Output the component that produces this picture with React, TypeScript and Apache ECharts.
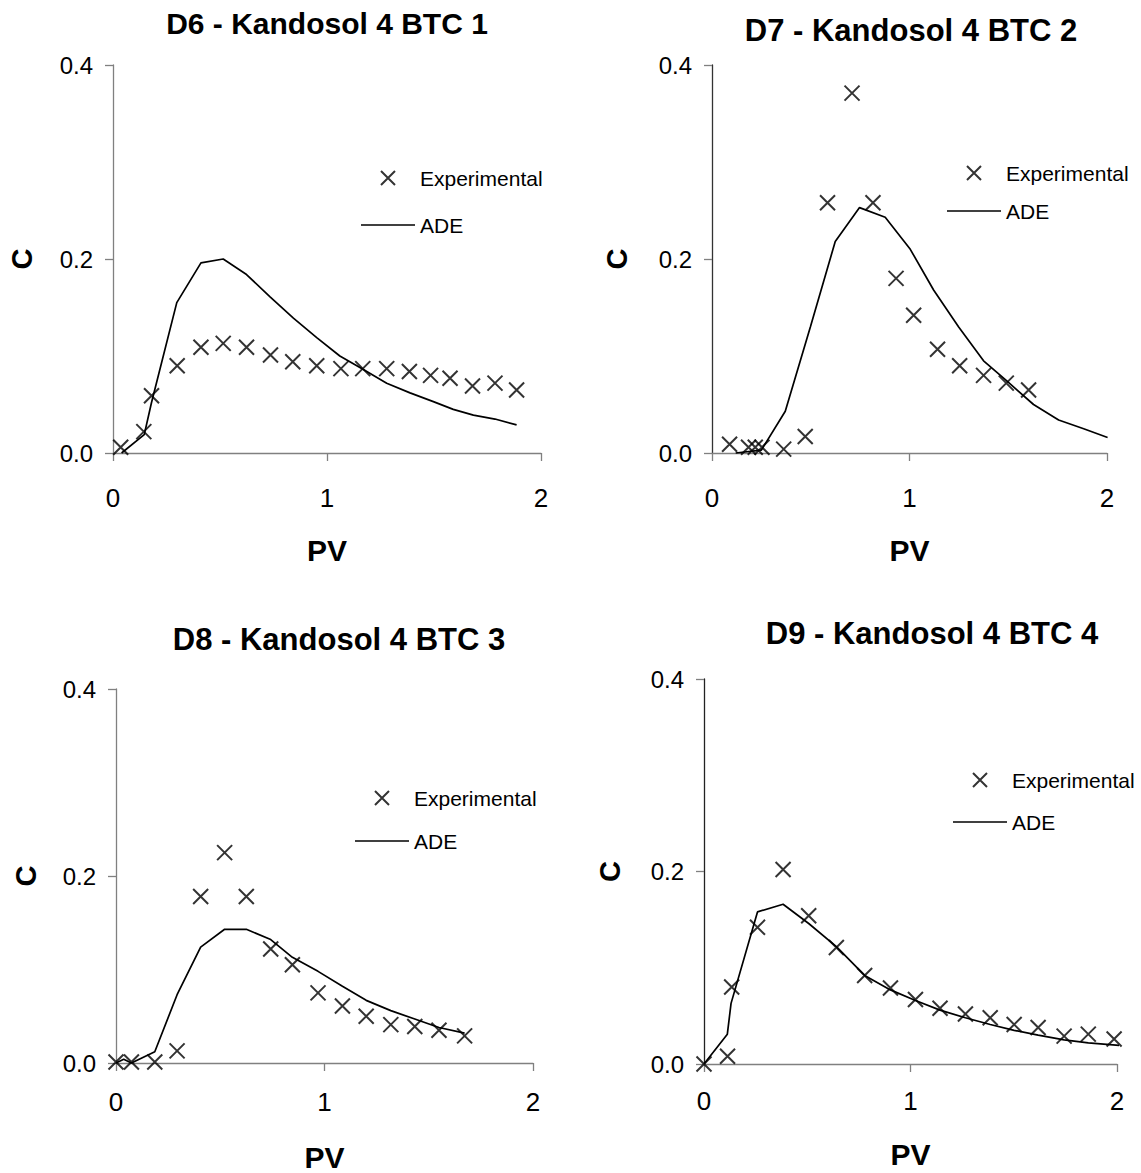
import React, { useEffect, useRef } from "react";
import * as echarts from "echarts";

// ---- Data (PV vs C) ----
const titles = [
  "D6 - Kandosol 4 BTC 1",
  "D7 - Kandosol 4 BTC 2",
  "D8 - Kandosol 4 BTC 3",
  "D9 - Kandosol 4 BTC 4",
];
const xTicks = [0, 1, 2];
const yTicks = [0.0, 0.2, 0.4];

// D6
const d6ExpPV = [0.036, 0.144, 0.18, 0.3, 0.411, 0.515, 0.624, 0.736, 0.84, 0.952, 1.065, 1.167, 1.279, 1.385, 1.484, 1.575, 1.68, 1.785, 1.886];
const d6ExpC = [0.006, 0.022, 0.059, 0.09, 0.109, 0.113, 0.109, 0.101, 0.094, 0.09, 0.087, 0.087, 0.087, 0.084, 0.08, 0.077, 0.069, 0.072, 0.065];
const d6AdePV = [0.04, 0.146, 0.18, 0.298, 0.411, 0.515, 0.624, 0.734, 0.843, 0.952, 1.06, 1.17, 1.279, 1.388, 1.497, 1.59, 1.684, 1.785, 1.886];
const d6AdeC = [0.0, 0.019, 0.052, 0.155, 0.196, 0.2, 0.184, 0.161, 0.139, 0.119, 0.1, 0.086, 0.072, 0.062, 0.053, 0.045, 0.039, 0.035, 0.029];

// D7
const d7ExpPV = [0.089, 0.185, 0.219, 0.253, 0.363, 0.472, 0.585, 0.709, 0.815, 0.932, 1.021, 1.142, 1.254, 1.375, 1.49, 1.603];
const d7ExpC = [0.009, 0.006, 0.006, 0.006, 0.004, 0.017, 0.258, 0.371, 0.258, 0.18, 0.142, 0.107, 0.09, 0.08, 0.072, 0.065];
const d7AdePV = [0.12, 0.25, 0.371, 0.498, 0.624, 0.747, 0.877, 1.004, 1.122, 1.249, 1.375, 1.494, 1.628, 1.755, 1.882, 2.003];
const d7AdeC = [0.0, 0.003, 0.043, 0.13, 0.218, 0.253, 0.243, 0.21, 0.168, 0.13, 0.095, 0.074, 0.05, 0.034, 0.025, 0.016];

// D8
const d8ExpPV = [0.0, 0.074, 0.186, 0.293, 0.406, 0.521, 0.625, 0.742, 0.846, 0.969, 1.086, 1.2, 1.318, 1.433, 1.549, 1.672];
const d8ExpC = [0.001, 0.001, 0.001, 0.013, 0.178, 0.225, 0.178, 0.122, 0.105, 0.075, 0.061, 0.05, 0.041, 0.039, 0.035, 0.029];
const d8AdePV = [0.0, 0.037, 0.074, 0.186, 0.293, 0.406, 0.521, 0.625, 0.742, 0.846, 0.969, 1.086, 1.2, 1.318, 1.433, 1.549, 1.672];
const d8AdeC = [0.0, 0.004, 0.0, 0.012, 0.073, 0.124, 0.143, 0.143, 0.132, 0.113, 0.098, 0.082, 0.067, 0.056, 0.047, 0.038, 0.032];

// D9
const d9ExpPV = [0.0, 0.114, 0.134, 0.259, 0.383, 0.507, 0.641, 0.778, 0.903, 1.024, 1.143, 1.266, 1.386, 1.502, 1.618, 1.744, 1.861, 1.986];
const d9ExpC = [0.0, 0.008, 0.08, 0.142, 0.202, 0.154, 0.121, 0.092, 0.079, 0.067, 0.058, 0.052, 0.048, 0.041, 0.038, 0.029, 0.031, 0.026];
const d9AdePV = [0.0, 0.113, 0.131, 0.259, 0.383, 0.507, 0.641, 0.778, 0.903, 1.024, 1.143, 1.266, 1.386, 1.502, 1.618, 1.744, 1.861, 2.034];
const d9AdeC = [0.0, 0.031, 0.063, 0.158, 0.166, 0.146, 0.122, 0.092, 0.077, 0.066, 0.056, 0.048, 0.041, 0.035, 0.03, 0.025, 0.022, 0.019];

const panels = [
  { expPV: d6ExpPV, expC: d6ExpC, adePV: d6AdePV, adeC: d6AdeC },
  { expPV: d7ExpPV, expC: d7ExpC, adePV: d7AdePV, adeC: d7AdeC },
  { expPV: d8ExpPV, expC: d8ExpC, adePV: d8AdePV, adeC: d8AdeC },
  { expPV: d9ExpPV, expC: d9ExpC, adePV: d9AdePV, adeC: d9AdeC },
];

// ---- Layout ----
const FONT = "'Liberation Sans', Arial, sans-serif";
const grids = [
  { left: 113, top: 65, width: 428, height: 388 },
  { left: 712, top: 65, width: 395, height: 388 },
  { left: 116, top: 689, width: 417, height: 380 },
  { left: 704, top: 679, width: 413, height: 385 },
];
const titlePos = [
  { x: 327, y: 8, size: 30 },
  { x: 911, y: 15, size: 31 },
  { x: 339, y: 624, size: 31 },
  { x: 932, y: 618, size: 31 },
];
const legendPos = [
  { left: 361, top: 167, gap: 25 },
  { left: 947, top: 162, gap: 16 },
  { left: 355, top: 787, gap: 21 },
  { left: 953, top: 769, gap: 20 },
];
const xLabelMargin = [32, 32, 26, 24];
const xNameGap = [82, 82, 79, 75];
const yNameGap = [77, 81, 76, 80];
const yAxisColor = ["#808080", "#333", "#808080", "#222"];

const CROSS = "path://M0,0L10,10M10,0L0,10";
const LINE_ICON = "path://M0,0L54,0L54,1.6L0,1.6Z";

export default function App() {
  const ref = useRef<HTMLDivElement>(null);
  useEffect(() => {
    if (!ref.current) return;
    const chart = echarts.init(ref.current, undefined, { renderer: "svg" });
    const option: any = {
      animation: false,
      backgroundColor: "#fff",
      title: titles.map((t, i) => ({
        text: t,
        left: titlePos[i].x,
        top: titlePos[i].y,
        textAlign: "center",
        padding: 0,
        textStyle: { fontFamily: FONT, fontSize: titlePos[i].size, fontWeight: "bold", color: "#000" },
      })),
      legend: legendPos.map((p) => ({
        orient: "vertical",
        left: p.left,
        top: p.top,
        padding: 0,
        itemGap: p.gap,
        itemWidth: 54,
        itemHeight: 14,
        data: [
          { name: "Experimental" },
          { name: "ADE", icon: LINE_ICON, itemStyle: { color: "#000", borderWidth: 0 } },
        ],
        textStyle: { fontFamily: FONT, fontSize: 21, color: "#000", lineHeight: 22 },
        selectedMode: false,
      })),
      grid: grids.map((g) => ({ ...g, containLabel: false })),
      xAxis: grids.map((_, i) => ({
        type: "value",
        gridIndex: i,
        min: xTicks[0],
        max: xTicks[xTicks.length - 1],
        interval: 1,
        name: "PV",
        nameLocation: "middle",
        nameGap: xNameGap[i],
        nameTextStyle: { fontFamily: FONT, fontSize: 30, fontWeight: "bold", color: "#000" },
        axisLine: { show: true, onZero: false, lineStyle: { color: "#808080", width: 1.3 } },
        axisTick: { show: true, length: 8, lineStyle: { color: "#808080", width: 1.3 } },
        axisLabel: { fontFamily: FONT, fontSize: 26, color: "#000", margin: xLabelMargin[i] },
        splitLine: { show: false },
      })),
      yAxis: grids.map((_, i) => ({
        type: "value",
        gridIndex: i,
        min: yTicks[0],
        max: yTicks[yTicks.length - 1],
        interval: 0.2,
        name: "C",
        nameLocation: "middle",
        nameGap: yNameGap[i],
        nameTextStyle: { fontFamily: FONT, fontSize: 29, fontWeight: "bold", color: "#000" },
        axisLine: { show: true, onZero: false, lineStyle: { color: yAxisColor[i], width: 1.3 } },
        axisTick: { show: true, length: 8, lineStyle: { color: "#808080", width: 1.3 } },
        axisLabel: {
          fontFamily: FONT,
          fontSize: 24,
          color: "#000",
          margin: 20,
          formatter: (v: number) => v.toFixed(1),
        },
        splitLine: { show: false },
      })),
      series: panels.flatMap((p, i) => [
        {
          type: "scatter",
          name: "Experimental",
          xAxisIndex: i,
          yAxisIndex: i,
          symbol: CROSS,
          symbolSize: 15,
          itemStyle: { color: "rgba(0,0,0,0)", borderColor: "#000", borderWidth: 2 },
          data: p.expPV.map((x, k) => [x, p.expC[k]]),
          z: 3,
        },
        {
          type: "line",
          name: "ADE",
          xAxisIndex: i,
          yAxisIndex: i,
          symbol: "none",
          showSymbol: false,
          clip: false,
          lineStyle: { color: "#000", width: 1.7 },
          itemStyle: { color: "#000" },
          data: p.adePV.map((x, k) => [x, p.adeC[k]]),
          z: 2,
        },
      ]),
    };
    chart.setOption(option);
    return () => chart.dispose();
  }, []);
  return (
    <div
      ref={ref}
      style={{ position: "fixed", left: 0, top: 0, width: 1141, height: 1173, background: "#fff" }}
    />
  );
}
